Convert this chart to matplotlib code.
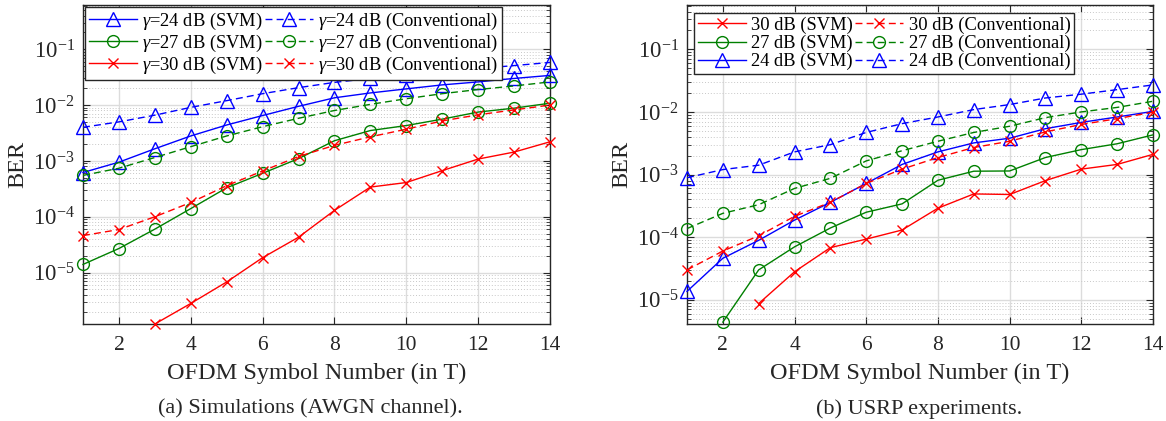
import numpy as np
import matplotlib
matplotlib.use('Agg')
import matplotlib.pyplot as plt
from matplotlib.ticker import LogLocator, NullFormatter

# 字体：Times 风格
plt.rcParams['font.family'] = ['Liberation Serif', 'DejaVu Serif']
plt.rcParams['mathtext.fontset'] = 'custom'
plt.rcParams['mathtext.rm'] = 'Liberation Serif'
plt.rcParams['mathtext.it'] = 'Liberation Serif:italic'
plt.rcParams['axes.unicode_minus'] = False

# OFDM 符号编号
symbols = np.arange(1, 15)
nan = np.nan

# (a) 仿真 (AWGN)
sim_svm_24 = [6.2e-4, 9.5e-4, 1.65e-3, 2.8e-3, 4.4e-3, 6.5e-3, 9.5e-3, 1.35e-2, 1.65e-2, 1.95e-2, 2.3e-2, 2.6e-2, 3.0e-2, 3.4e-2]
sim_conv_24 = [4.0e-3, 5.0e-3, 6.6e-3, 9.1e-3, 1.2e-2, 1.6e-2, 2.05e-2, 2.55e-2, 3.0e-2, 3.4e-2, 4.0e-2, 4.5e-2, 5.1e-2, 5.8e-2]
sim_svm_27 = [1.4e-5, 2.7e-5, 6.0e-5, 1.4e-4, 3.3e-4, 6.0e-4, 1.1e-3, 2.3e-3, 3.5e-3, 4.3e-3, 5.6e-3, 7.5e-3, 8.8e-3, 1.08e-2]
sim_conv_27 = [5.5e-4, 7.4e-4, 1.15e-3, 1.8e-3, 2.8e-3, 4.1e-3, 5.8e-3, 8.0e-3, 1.03e-2, 1.3e-2, 1.6e-2, 1.9e-2, 2.2e-2, 2.6e-2]
sim_svm_30 = [nan, nan, 1.2e-6, 2.8e-6, 6.8e-6, 1.85e-5, 4.3e-5, 1.3e-4, 3.4e-4, 4.1e-4, 6.7e-4, 1.08e-3, 1.44e-3, 2.2e-3]
sim_conv_30 = [4.6e-5, 5.9e-5, 1.0e-4, 1.8e-4, 3.6e-4, 6.6e-4, 1.2e-3, 1.9e-3, 2.7e-3, 3.7e-3, 5.2e-3, 6.7e-3, 8.2e-3, 1.0e-2]

# (b) USRP 实验
usrp_svm_30 = [nan, nan, 8.7e-6, 2.8e-5, 6.8e-5, 9.3e-5, 1.3e-4, 2.9e-4, 4.9e-4, 4.8e-4, 8.0e-4, 1.22e-3, 1.45e-3, 2.1e-3]
usrp_conv_30 = [3.0e-5, 6.0e-5, 1.05e-4, 2.15e-4, 3.6e-4, 7.2e-4, 1.22e-3, 1.87e-3, 2.7e-3, 3.4e-3, 4.8e-3, 6.3e-3, 7.8e-3, 9.9e-3]
usrp_svm_27 = [nan, 4.4e-6, 3.0e-5, 7.0e-5, 1.4e-4, 2.5e-4, 3.4e-4, 8.1e-4, 1.13e-3, 1.14e-3, 1.87e-3, 2.5e-3, 3.1e-3, 4.3e-3]
usrp_conv_27 = [1.37e-4, 2.4e-4, 3.3e-4, 6.0e-4, 8.7e-4, 1.65e-3, 2.4e-3, 3.4e-3, 4.7e-3, 5.9e-3, 8.1e-3, 1.0e-2, 1.18e-2, 1.48e-2]
usrp_svm_24 = [1.36e-5, 4.6e-5, 8.9e-5, 1.87e-4, 3.6e-4, 7.2e-4, 1.45e-3, 2.3e-3, 3.2e-3, 3.8e-3, 5.4e-3, 6.8e-3, 8.3e-3, 1.02e-2]
usrp_conv_24 = [8.9e-4, 1.2e-3, 1.41e-3, 2.3e-3, 3.0e-3, 4.7e-3, 6.5e-3, 8.3e-3, 1.09e-2, 1.31e-2, 1.67e-2, 1.92e-2, 2.27e-2, 2.7e-2]

BLUE = '#0000ff'
GREEN = '#008000'
RED = '#ff0000'
DASH = (0, (5, 3))

style = {
    24: dict(color=BLUE, marker='^', markersize=9.5),
    27: dict(color=GREEN, marker='o', markersize=8.5),
    30: dict(color=RED, marker='x', markersize=7),
}

fig = plt.figure(figsize=(11.66, 4.21), dpi=100)
ax1 = fig.add_axes([83 / 1166, 1 - 324 / 421, 467 / 1166, 319 / 421])
ax2 = fig.add_axes([687 / 1166, 1 - 324 / 421, 466 / 1166, 319 / 421])


def draw(ax, y, snr, ls, label):
    s = style[snr]
    h, = ax.plot(symbols, y, linestyle=ls, linewidth=1.0, color=s['color'],
                 marker=s['marker'], markersize=s['markersize'],
                 markerfacecolor='none', markeredgecolor=s['color'],
                 markeredgewidth=1.0, clip_on=False, label=label, zorder=3)
    return h


def setup(ax, ylim):
    ax.set_yscale('log')
    ax.set_xlim(1, 14)
    ax.set_ylim(*ylim)
    ax.set_xticks([2, 4, 6, 8, 10, 12, 14])
    ax.yaxis.set_major_locator(LogLocator(base=10, numticks=20))
    ax.yaxis.set_minor_locator(LogLocator(base=10, subs=np.arange(2, 10), numticks=20))
    ax.yaxis.set_minor_formatter(NullFormatter())
    ax.grid(True, which='major', color='#dcdcdc', linewidth=1.0, linestyle='-')
    ax.grid(True, which='minor', axis='y', color='#c8c8c8', linewidth=0.7, linestyle=(0, (1, 2)))
    ax.set_axisbelow(True)
    ax.tick_params(which='both', direction='in', top=True, right=True, colors='#262626', labelcolor='#262626')
    ax.tick_params(which='major', length=5)
    ax.tick_params(axis='x', which='major', pad=9, labelsize=15.5)
    ax.tick_params(axis='y', which='major', pad=6, labelsize=16.5)
    ax.tick_params(which='minor', length=3)
    for sp in ax.spines.values():
        sp.set_color('#262626')
        sp.set_linewidth(1.0)
    ax.set_xlabel('OFDM Symbol Number (in T)', fontsize=17.5, color='#262626', labelpad=5)
    ax.set_ylabel('BER', fontsize=17.5, color='#262626', labelpad=3)


legend_kw = dict(ncol=2, loc='upper left', fontsize=13.3, handlelength=2.6,
                 handletextpad=0.3, columnspacing=0.1, labelspacing=0.05,
                 borderpad=0.2, borderaxespad=0, fancybox=False,
                 framealpha=1, edgecolor='#262626')

# (a)
h = [
    draw(ax1, sim_svm_24, 24, '-', r'$\gamma$=24 dB (SVM)'),
    draw(ax1, sim_svm_27, 27, '-', r'$\gamma$=27 dB (SVM)'),
    draw(ax1, sim_svm_30, 30, '-', r'$\gamma$=30 dB (SVM)'),
    draw(ax1, sim_conv_24, 24, DASH, r'$\gamma$=24 dB (Conventional)'),
    draw(ax1, sim_conv_27, 27, DASH, r'$\gamma$=27 dB (Conventional)'),
    draw(ax1, sim_conv_30, 30, DASH, r'$\gamma$=30 dB (Conventional)'),
]
setup(ax1, (1.2e-6, 0.62))
leg = ax1.legend(handles=h, bbox_to_anchor=(0.004, 0.994), **legend_kw)
leg.get_frame().set_linewidth(1.0)
leg.set_zorder(10)

# (b)
h = [
    draw(ax2, usrp_svm_30, 30, '-', '30 dB (SVM)'),
    draw(ax2, usrp_svm_27, 27, '-', '27 dB (SVM)'),
    draw(ax2, usrp_svm_24, 24, '-', '24 dB (SVM)'),
    draw(ax2, usrp_conv_30, 30, DASH, '30 dB (Conventional)'),
    draw(ax2, usrp_conv_27, 27, DASH, '27 dB (Conventional)'),
    draw(ax2, usrp_conv_24, 24, DASH, '24 dB (Conventional)'),
]
setup(ax2, (4.1e-6, 0.51))
leg = ax2.legend(handles=h, bbox_to_anchor=(0.015, 0.975), **legend_kw)
leg.get_frame().set_linewidth(1.0)
leg.set_zorder(10)

# 子图标题
fig.text(310 / 1166, 1 - 409 / 421, '(a) Simulations (AWGN channel).', ha='center', va='center', fontsize=16, color='#262626')
fig.text(919 / 1166, 1 - 409 / 421, '(b) USRP experiments.', ha='center', va='center', fontsize=16, color='#262626')

fig.savefig('out.png', dpi=100)
